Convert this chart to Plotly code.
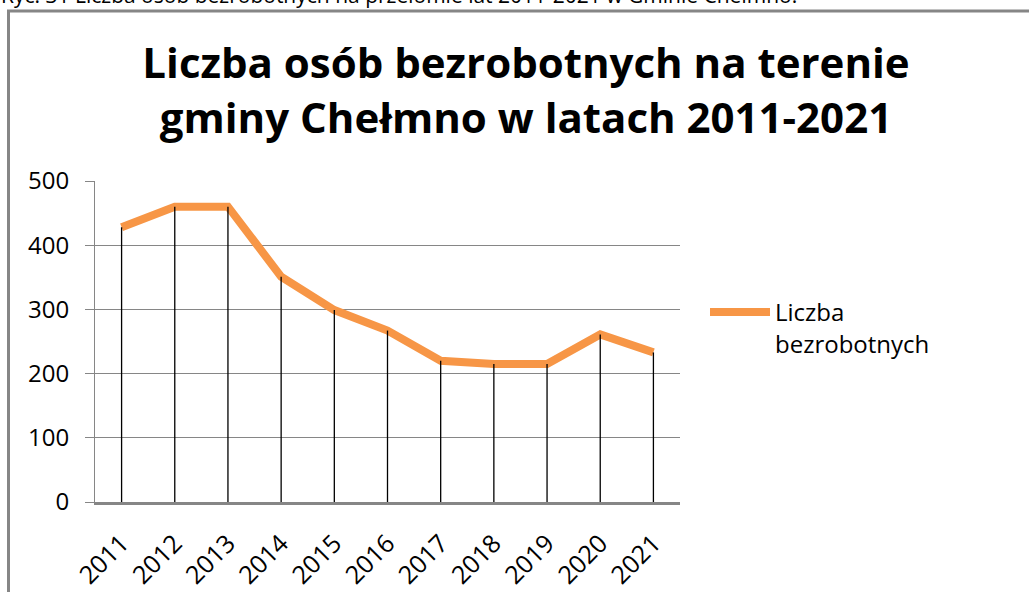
import plotly.graph_objects as go

years = ["2011", "2012", "2013", "2014", "2015", "2016", "2017", "2018", "2019", "2020", "2021"]
unemployed = [428, 460, 460, 351, 299, 267, 220, 215, 215, 261, 233]
series_name = "Liczba<br>bezrobotnych"
y_ticks = [0, 100, 200, 300, 400, 500]

title_text = "Liczba osób bezrobotnych na terenie<br>gminy Chełmno w latach 2011-2021"
caption_text = "Ryc. 31 Liczba osób bezrobotnych na przełomie lat 2011-2021 w Gminie Chełmno."

ORANGE = "#F79646"
GRID = "#868686"
FONT = "Open Sans"

# drop lines built from the data
drop_x, drop_y = [], []
for yr, v in zip(years, unemployed):
    drop_x += [yr, yr, None]
    drop_y += [0, v, None]

fig = go.Figure()
fig.add_trace(go.Scatter(
    x=years, y=unemployed, mode="lines", name=series_name,
    line=dict(color=ORANGE, width=8),
))
fig.add_trace(go.Scatter(
    x=drop_x, y=drop_y, mode="lines", showlegend=False, hoverinfo="skip",
    line=dict(color="black", width=1.3),
))

W, H = 1029, 592
L, R, T, B = 95, 349, 181, 90
pw, ph = W - L - R, H - T - B

def px_to_paper(px, py):
    return (px - L) / pw, (H - B - py) / ph

bx, by = px_to_paper(8.5, 11)
cx, cy = px_to_paper(-1, -5)

fig.update_layout(
    width=W, height=H,
    margin=dict(l=L, r=R, t=T, b=B, autoexpand=False),
    paper_bgcolor="white", plot_bgcolor="white",
    font=dict(family=FONT, color="black"),
    title=dict(
        text=title_text, x=526 / W, xanchor="center",
        y=1 - 78 / H, yanchor="top", yref="container",
        font=dict(family=FONT, size=42, color="black", weight="bold"),
    ),
    xaxis=dict(
        type="category", categoryorder="array", categoryarray=years,
        showgrid=False, showline=True, linecolor=GRID, linewidth=2.5,
        ticks="", tickangle=-45, tickfont=dict(size=25, family=FONT),
        ticklabelstandoff=14, range=[-0.5, len(years) - 0.5],
    ),
    yaxis=dict(
        range=[0, 500], tickvals=y_ticks, showgrid=True, gridcolor=GRID,
        gridwidth=1.3, showline=True, linecolor=GRID, linewidth=1,
        ticks="outside", ticklen=9, tickcolor=GRID,
        tickfont=dict(size=24, family=FONT), ticklabelstandoff=11,
        zeroline=False,
    ),
    legend=dict(
        x=(705 - L) / pw, y=(H - B - 290) / ph, xanchor="left", yanchor="top",
        valign="top", font=dict(size=24, family=FONT), bgcolor="rgba(0,0,0,0)",
        itemwidth=60, tracegroupgap=0,
    ),
    shapes=[dict(
        type="rect", xref="paper", yref="paper",
        x0=bx, y0=-1, x1=3, y1=by,
        line=dict(color=GRID, width=3), fillcolor="rgba(0,0,0,0)", layer="below",
    )],
    annotations=[dict(
        text=caption_text, xref="paper", yref="paper", x=cx, y=cy,
        xanchor="left", yanchor="middle", showarrow=False,
        font=dict(size=21, family=FONT, color="black"),
    )],
    showlegend=True,
)

fig.write_html(
    "out.html",
    config={"displayModeBar": False},
    post_script="document.body.style.margin='0';",
)
